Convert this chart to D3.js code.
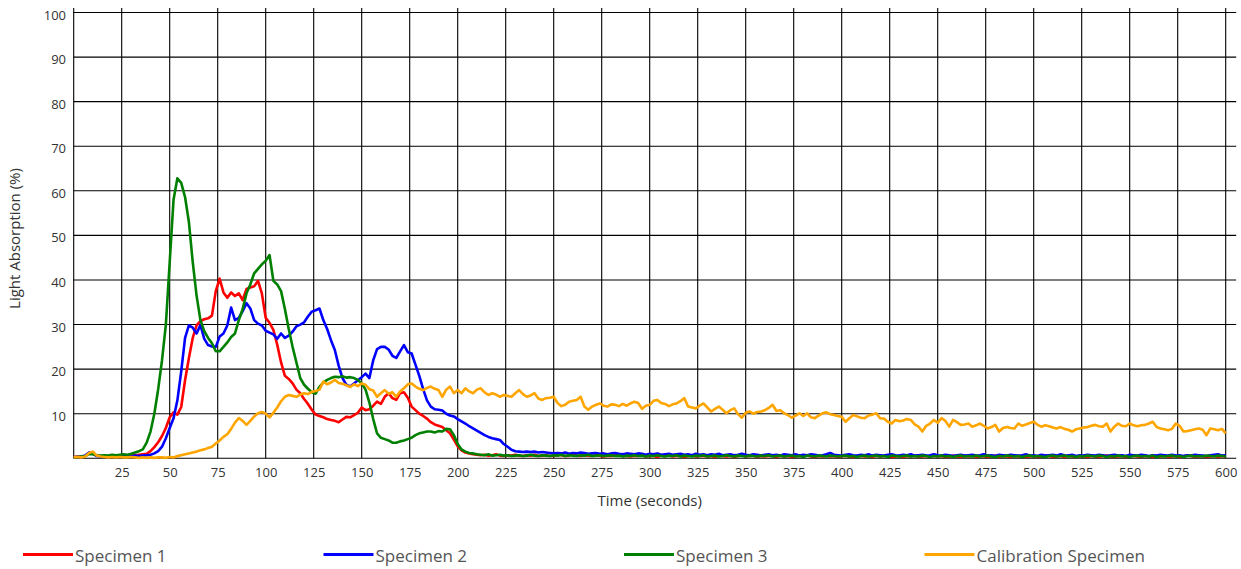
<!DOCTYPE html>
<html>
<head>
<meta charset="utf-8">
<script src="https://cdn.jsdelivr.net/npm/d3@7"></script>
<style>
  html, body { margin: 0; padding: 0; background: #fff; overflow: hidden; }
  svg { display: block; }
  text { font-family: "Open Sans", "Noto Sans", sans-serif; }
</style>
</head>
<body>
<svg id="chart" width="1241" height="569"></svg>
<script>
// Light absorption readings, one sample every 2 seconds from 0 to 600 s
const timeSeconds = d3.range(0, 601, 2);

const specimen1 = [
  0.3,0.4,0.3,0.5,1.2,1.0,0.6,0.5,0.6,0.4,
  0.5,0.6,0.5,0.7,0.6,0.8,0.7,0.8,0.9,1.0,
  1.6,2.5,3.6,5.0,6.8,9.2,10.3,9.8,11.5,17.5,
  22.5,27.0,29.8,30.8,31.2,31.4,32.0,37.5,40.3,37.2,
  36.0,37.2,36.4,37.0,35.5,38.0,38.3,38.6,39.8,37.0,
  31.5,30.4,28.8,25.5,21.5,18.5,17.8,16.8,15.4,14.6,
  13.3,12.2,10.9,9.8,9.5,9.2,8.8,8.6,8.4,8.1,
  8.7,9.3,9.2,9.7,10.2,11.4,10.8,11.0,11.8,12.7,
  12.2,13.8,14.6,13.5,13.1,14.6,14.8,13.6,11.6,10.8,
  10.0,9.5,8.9,8.1,7.6,7.3,7.0,6.3,5.6,4.2,
  2.7,1.8,1.3,1.1,0.9,0.8,
  0.7,0.8,0.6,0.7,0.9,0.6,0.5,0.7,0.6,0.8,
  0.6,0.5,0.7,0.6,0.8,0.5,0.6,0.7,0.5,0.6,
  0.8,0.7,0.5,0.6,0.9,0.6,0.5,0.7,0.6,0.5,
  0.7,0.6,0.4,0.6,0.5,0.7,0.8,0.5,0.6,0.4,
  0.6,0.5,0.7,0.4,0.6,0.5,0.3,0.6,0.5,0.7,
  0.4,0.6,0.5,0.3,0.5,0.7,0.4,0.5,0.6,0.4,
  0.5,0.3,0.6,0.5,0.4,0.6,0.3,0.5,0.7,0.4,
  0.5,0.6,0.3,0.5,0.4,0.6,0.5,0.3,0.6,0.4,
  0.5,0.3,0.4,0.6,0.5,0.7,0.4,0.3,0.5,0.4,
  0.6,0.4,0.5,0.3,0.5,0.6,0.4,0.3,0.5,0.6,
  0.4,0.5,0.3,0.6,0.4,0.5,0.7,0.3,0.4,0.5,
  0.3,0.5,0.4,0.6,0.3,0.4,0.5,0.3,0.6,0.4,
  0.5,0.3,0.4,0.6,0.4,0.3,0.5,0.4,0.6,0.3,
  0.4,0.5,0.3,0.4,0.6,0.3,0.5,0.4,0.3,0.5,
  0.4,0.6,0.3,0.4,0.5,0.3,0.4,0.6,0.5,0.3,
  0.4,0.5,0.3,0.6,0.4,0.3,0.5,0.4,0.3,0.5,
  0.4,0.3,0.5,0.6,0.4,0.3,0.4,0.5,0.3,0.4,
  0.6,0.4,0.3,0.5,0.4,0.3,0.5,0.4,0.6,0.3,
  0.4,0.5,0.3,0.4,0.7,0.5,0.3,0.4,0.5,0.3,
  0.4,0.6,0.3,0.5,0.4
];

const specimen2 = [
  0.2,0.3,0.4,0.6,1.3,1.1,0.5,0.4,0.3,0.5,
  0.4,0.5,0.3,0.4,0.5,0.4,0.6,0.5,0.6,0.7,
  0.8,1.1,1.6,2.6,4.5,6.8,9.0,13.0,19.5,27.0,
  29.8,29.3,28.0,29.9,26.8,25.4,25.1,25.0,27.3,28.0,
  29.8,33.8,31.0,31.5,33.0,34.8,33.6,31.0,30.2,29.8,
  28.6,28.2,27.8,26.8,28.0,27.0,27.5,28.4,29.6,30.0,
  30.5,31.8,32.9,33.2,33.6,31.0,29.0,26.5,24.3,20.8,
  18.0,16.5,16.1,16.8,17.5,18.2,19.0,18.0,22.0,24.5,
  25.0,25.0,24.4,23.0,22.5,24.0,25.4,23.8,23.5,21.0,
  18.5,15.5,13.0,11.6,11.0,10.9,10.7,10.0,9.6,9.4,
  8.8,8.3,7.8,7.2,6.7,6.2,5.7,5.2,4.8,4.5,
  4.3,4.1,3.2,2.6,1.9,1.6,1.5,1.4,1.5,1.4,
  1.5,1.3,1.4,1.3,1.2,1.1,
  1.2,1.1,1.3,1.0,1.2,1.1,1.3,1.2,1.0,1.1,
  1.2,1.0,1.1,0.9,1.1,1.2,1.0,0.9,1.1,1.0,
  0.9,1.1,1.0,0.8,1.0,0.9,1.1,0.8,0.9,1.0,
  0.8,0.9,1.0,0.8,0.9,0.7,1.0,0.8,0.9,0.7,
  0.9,0.8,1.0,0.7,0.8,0.9,0.7,0.8,1.0,0.8,
  0.7,0.9,0.8,0.6,0.8,0.9,0.7,0.8,0.6,0.9,
  0.8,0.7,0.9,0.6,0.8,0.7,0.9,0.8,0.6,0.7,
  0.9,1.2,0.8,0.7,0.6,0.8,0.9,0.7,0.6,0.8,
  0.7,0.9,0.6,0.8,0.7,0.6,0.8,0.9,0.7,0.6,
  0.8,0.7,0.9,0.6,0.7,0.8,0.6,0.7,0.9,0.7,
  0.6,0.8,0.7,0.5,0.7,0.8,0.6,0.7,0.8,0.6,
  0.7,0.9,0.6,0.7,0.5,0.8,0.7,0.6,0.8,0.7,
  0.6,0.7,0.9,0.6,0.7,0.5,0.8,0.6,0.7,0.8,
  0.6,0.9,0.7,0.6,0.8,0.5,0.7,0.6,0.8,0.7,
  0.6,0.8,0.7,0.5,0.7,0.8,0.6,0.7,0.5,0.8,
  0.7,0.6,0.8,0.7,0.5,0.7,0.6,0.8,0.7,0.6,
  0.8,0.6,0.7,0.5,0.7,0.6,0.8,0.7,0.6,0.5,
  0.7,0.8,0.9,0.6,0.7
];

const specimen3 = [
  0.2,0.3,0.4,0.5,1.0,0.9,0.7,0.6,0.7,0.6,
  0.8,0.7,0.8,0.9,0.8,1.0,1.3,1.6,2.0,3.5,
  6.0,10.0,15.5,22.0,30.0,44.0,58.0,62.8,61.8,58.6,
  53.0,44.0,36.5,31.0,28.5,27.0,25.8,24.0,24.0,25.0,
  26.0,27.2,28.0,31.0,33.5,37.0,39.0,41.5,42.5,43.5,
  44.3,45.6,39.8,39.0,37.5,33.5,29.0,25.0,21.5,18.0,
  16.5,15.6,14.8,14.5,16.0,17.0,17.6,18.0,18.3,18.2,
  18.4,18.1,18.2,18.0,17.6,16.8,15.4,12.5,8.8,5.6,
  4.6,4.3,4.0,3.5,3.5,3.8,4.0,4.3,4.6,5.2,
  5.6,5.8,6.0,6.0,5.8,6.1,6.0,6.6,6.5,5.2,
  3.2,2.0,1.5,1.2,1.1,0.9,
  0.8,0.7,0.9,0.6,0.7,0.8,0.6,0.7,0.5,0.6,
  0.7,0.5,0.6,0.8,0.6,0.5,0.7,0.6,0.5,0.7,
  0.6,0.8,0.5,0.7,0.6,0.5,0.7,0.6,0.8,0.5,
  0.6,0.7,0.5,0.6,0.7,0.5,0.6,0.4,0.6,0.5,
  0.7,0.5,0.6,0.4,0.6,0.5,0.7,0.5,0.4,0.6,
  0.5,0.7,0.4,0.6,0.5,0.4,0.6,0.5,0.7,0.4,
  0.5,0.6,0.4,0.5,0.7,0.5,0.4,0.6,0.5,0.4,
  0.6,0.5,0.4,0.6,0.5,0.7,0.4,0.5,0.6,0.4,
  0.5,0.6,0.4,0.5,0.3,0.6,0.5,0.4,0.6,0.5,
  0.4,0.6,0.5,0.4,0.5,0.6,0.4,0.5,0.3,0.5,
  0.6,0.4,0.5,0.6,0.4,0.5,0.3,0.6,0.5,0.4,
  0.5,0.6,0.4,0.5,0.4,0.6,0.5,0.3,0.5,0.4,
  0.6,0.4,0.5,0.3,0.5,0.6,0.4,0.5,0.4,0.6,
  0.4,0.5,0.6,0.4,0.3,0.5,0.4,0.6,0.5,0.4,
  0.5,0.3,0.5,0.6,0.4,0.5,0.4,0.3,0.5,0.6,
  0.4,0.5,0.6,0.4,0.5,0.3,0.5,0.4,0.6,0.5,
  0.4,0.6,0.5,0.3,0.5,0.4,0.6,0.4,0.5,0.3,
  0.5,0.6,0.4,0.5,0.4,0.6,0.3,0.5,0.4,0.5,
  0.6,0.4,0.5,0.3,0.5,0.6,0.4,0.5,0.4,0.6,
  0.5,0.4,0.6,0.5,0.4
];

const calibration = [
  0.2,0.3,0.2,0.4,1.2,1.5,0.6,0.4,0.3,0.2,
  0.3,0.2,0.3,0.2,0.2,0.3,0.2,0.1,0.2,0.1,
  0.2,0.1,0.2,0.2,0.1,0.3,0.2,0.5,0.7,0.9,
  1.1,1.3,1.5,1.8,2.0,2.3,2.6,3.3,4.0,4.8,
  5.4,6.6,8.0,9.0,8.4,7.5,8.4,9.4,10.1,10.4,
  10.0,9.2,10.2,11.4,12.8,13.8,14.2,14.0,13.8,14.3,
  14.6,14.4,14.9,15.1,15.4,17.2,16.6,17.0,17.6,16.9,
  16.7,16.4,16.0,16.6,16.2,16.8,16.5,15.5,15.2,13.8,
  14.6,15.3,14.5,14.8,13.8,15.0,15.7,16.6,16.8,16.1,
  15.6,15.3,15.8,16.1,15.6,15.3,13.8,15.4,16.1,14.6,
  15.3,14.6,15.7,15.0,14.6,15.4,15.7,14.8,14.2,14.6,
  14.3,13.8,14.2,14.0,13.8,14.6,15.3,14.4,13.8,14.1,
  14.6,13.4,13.1,13.5,13.6,13.8,12.4,11.7,12.0,12.7,
  12.9,13.1,13.8,11.6,10.9,11.6,12.0,12.3,11.8,11.6,
  12.1,12.0,11.7,12.2,11.8,12.3,12.7,12.4,11.1,11.8,
  12.0,12.9,13.1,12.4,12.2,11.7,12.1,12.3,12.8,13.5,
  11.6,11.4,11.2,11.8,12.3,11.4,10.5,11.1,11.6,10.9,
  10.1,10.8,11.2,9.9,9.1,10.2,10.5,10.0,10.4,10.5,
  10.8,11.3,12.0,10.6,10.8,10.1,9.7,9.1,9.6,10.1,
  9.5,10.1,9.2,9.0,9.6,10.1,10.3,9.9,9.7,9.5,
  9.3,8.2,9.0,9.7,9.4,9.1,9.0,9.6,9.8,10.1,
  9.0,8.9,8.2,7.8,8.6,8.3,8.5,8.8,8.6,7.6,
  7.1,6.0,7.3,7.8,8.6,8.0,9.0,8.4,7.1,8.6,
  8.1,7.5,7.6,7.8,7.1,7.4,7.8,7.3,6.7,7.0,
  7.5,6.0,6.8,7.0,6.8,6.7,7.8,7.3,7.6,7.9,
  8.2,7.5,7.1,7.4,7.2,6.9,6.7,7.0,6.6,6.4,
  6.0,6.5,6.7,6.9,7.0,7.3,7.5,7.2,7.1,7.8,
  6.0,7.1,7.8,7.3,7.2,7.8,7.4,7.2,7.4,7.5,
  7.8,8.2,7.0,6.7,6.5,6.3,6.6,7.8,7.3,6.0,
  6.1,6.3,6.5,6.7,6.4,5.2,6.7,6.5,6.3,6.6,
  5.6
];

const seriesNames = ["Specimen 1", "Specimen 2", "Specimen 3", "Calibration Specimen"];
const seriesColors = ["#ff0000", "#0000ff", "#008000", "#ffa500"];
const xTicks = [25, 50, 75, 100, 125, 150, 175, 200, 225, 250, 275, 300,
                325, 350, 375, 400, 425, 450, 475, 500, 525, 550, 575, 600];
const yTicks = [10, 20, 30, 40, 50, 60, 70, 80, 90, 100];

const series = [specimen1, specimen2, specimen3, calibration];

const svg = d3.select("#chart");
const x = d3.scaleLinear().domain([0, 600]).range([73.7, 1225.7]);
const y = d3.scaleLinear().domain([0, 100]).range([458.3, 12.5]);

// grid
const grid = svg.append("g").attr("stroke", "#000").attr("stroke-width", 1.1);
grid.selectAll("line.v").data([0].concat(xTicks)).join("line")
  .attr("class", "v")
  .attr("x1", d => x(d)).attr("x2", d => x(d))
  .attr("y1", y(100) - 4.5).attr("y2", y(0));
grid.selectAll("line.h").data([0].concat(yTicks)).join("line")
  .attr("class", "h")
  .attr("x1", x(0)).attr("x2", x(600) + 10.5)
  .attr("y1", d => y(d)).attr("y2", d => y(d));

// axes (labels only; the grid provides the lines)
const xAxis = svg.append("g")
  .attr("transform", `translate(0,${y(0)})`)
  .call(d3.axisBottom(x).tickValues(xTicks).tickSize(0).tickPadding(9.5));
const yAxis = svg.append("g")
  .attr("transform", `translate(${x(0)},0)`)
  .call(d3.axisLeft(y).tickValues(yTicks).tickSize(0).tickPadding(7.7));
[xAxis, yAxis].forEach(g => {
  g.select(".domain").remove();
  g.attr("font-family", null).attr("font-size", null);
  g.selectAll("text")
    .attr("fill", "#333")
    .style("font-size", "13px");
});
yAxis.selectAll("text").attr("dy", "0.5em");

// axis titles
svg.append("text")
  .attr("x", (x(0) + x(600)) / 2).attr("y", 506)
  .attr("text-anchor", "middle").attr("fill", "#333")
  .style("font-size", "15px")
  .text("Time (seconds)");
svg.append("text")
  .attr("transform", "translate(20,238.5) rotate(-90)")
  .attr("text-anchor", "middle").attr("fill", "#333")
  .style("font-size", "15px")
  .text("Light Absorption (%)");

// series lines
const line = d3.line()
  .x((d, i) => x(timeSeconds[i]))
  .y(d => y(d));
svg.append("g").selectAll("path").data(series).join("path")
  .attr("d", d => line(d))
  .attr("fill", "none")
  .attr("stroke", (d, i) => seriesColors[i])
  .attr("stroke-width", 2.6)
  .attr("stroke-linejoin", "round");

// legend
const legend = svg.append("g").selectAll("g").data(seriesNames).join("g")
  .attr("transform", (d, i) => `translate(${23 + i * 300.5},0)`);
legend.append("line")
  .attr("x1", 0).attr("x2", 50)
  .attr("y1", 554.5).attr("y2", 554.5)
  .attr("stroke", (d, i) => seriesColors[i])
  .attr("stroke-width", 3);
legend.append("text")
  .attr("x", 52).attr("y", 562)
  .attr("fill", "#555")
  .style("font-size", "17px")
  .text(d => d);
</script>
</body>
</html>
